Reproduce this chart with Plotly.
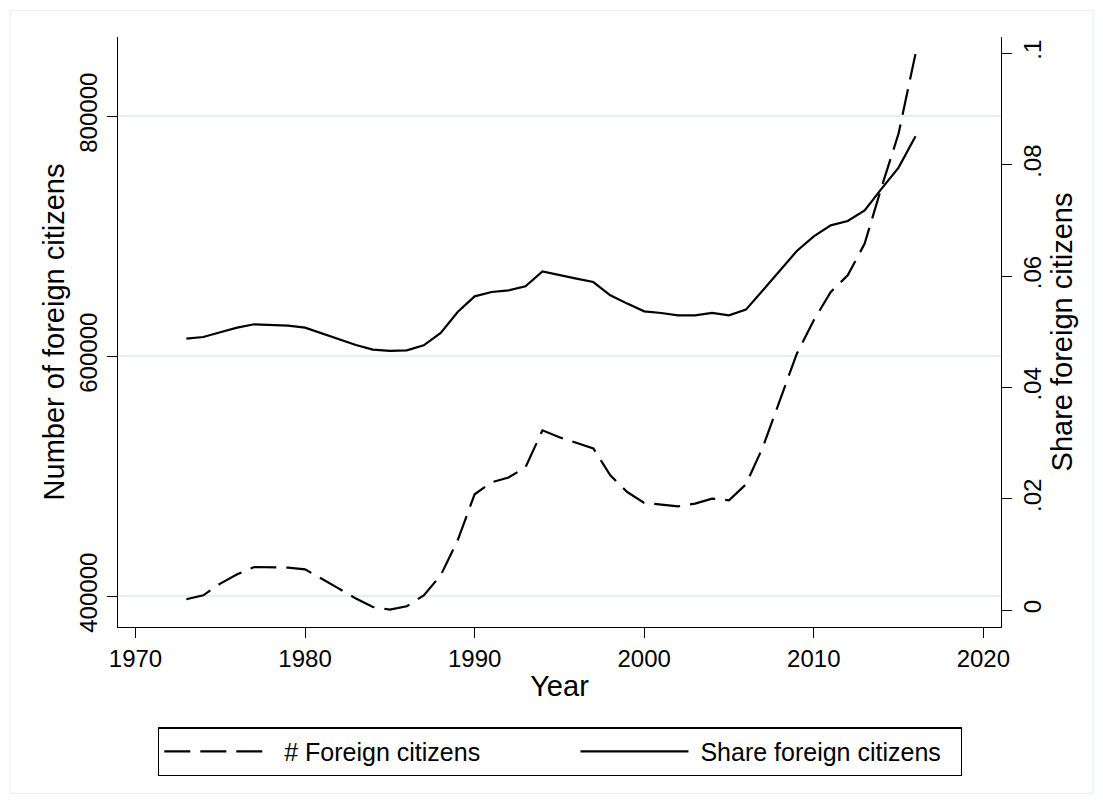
import plotly.graph_objects as go

years = list(range(1973, 2017))
foreign_citizens = [397500, 400800, 410600, 418300, 424400, 424400, 423900, 422500,
                    414700, 406400, 398100, 391100, 388900, 391700, 400800, 417500,
                    446700, 485000, 495000, 499000, 507500, 538300, 532500, 528000,
                    523300, 500800, 486900, 477800, 476700, 475000, 477200, 481400,
                    480000, 493300, 524400, 563300, 602200, 630000, 653600, 667500,
                    693900, 741100, 785600, 852200]
share_foreign = [0.04877, 0.04907, 0.04991, 0.05075, 0.05135, 0.05122, 0.05111, 0.05075,
                 0.04967, 0.04860, 0.04763, 0.04680, 0.04656, 0.04668, 0.04758, 0.04979,
                 0.05356, 0.05637, 0.05715, 0.05745, 0.05817, 0.06086, 0.06014, 0.05955,
                 0.05894, 0.05655, 0.05506, 0.05368, 0.05338, 0.05296, 0.05296, 0.05338,
                 0.05296, 0.05398, 0.05745, 0.06104, 0.06451, 0.06714, 0.06912, 0.06989,
                 0.07181, 0.07570, 0.07948, 0.08510]

x_ticks = [1970, 1980, 1990, 2000, 2010, 2020]
left_ticks = [400000, 600000, 800000]
left_tick_text = ["400000", "600000", "800000"]
right_ticks = [0, 0.02, 0.04, 0.06, 0.08, 0.1]
right_tick_text = ["0", ".02", ".04", ".06", ".08", ".1"]
legend_names = ["# Foreign citizens", "Share foreign citizens"]

FONT = "Liberation Sans, Arial, sans-serif"
FS = 24
NB = "\u00a0"

# page is offset by the 8px body margin; plot area wanted at page x 118..1001, y 36.7..626.7
W, H = 1095, 795
PL, PR, PT, PB = 110, 1095 - 993, 28.7, 795 - 618.7
PW, PH = 993 - 110, 618.7 - 28.7


def px_x(page_x):
    return (page_x - 8 - PL) / PW


def px_y(page_y):
    return 1 - (page_y - 8 - PT) / PH


fig = go.Figure()
fig.add_trace(go.Scatter(x=years, y=foreign_citizens, mode="lines",
                         name=NB + legend_names[0] + NB * 13,
                         line=dict(color="black", width=2.2, dash="26px,10px")))
fig.add_trace(go.Scatter(x=years, y=share_foreign, mode="lines",
                         name=NB + legend_names[1] + NB * 2, yaxis="y2",
                         line=dict(color="black", width=2.2)))

axis_common = dict(showline=True, linecolor="black", linewidth=1.3,
                   ticks="outside", ticklen=10, tickwidth=1.3, tickcolor="black",
                   zeroline=False, automargin=False)

fig.update_layout(
    width=W, height=H,
    margin=dict(l=PL, r=PR, t=PT, b=PB, autoexpand=False),
    paper_bgcolor="white", plot_bgcolor="white",
    font=dict(family=FONT, size=FS, color="black"),
    xaxis=dict(range=[1968.97, 2021.04], tickvals=x_ticks, showgrid=False,
               title=dict(text="Year", standoff=4), **axis_common),
    yaxis=dict(range=[374417, 866083], tickvals=left_ticks, ticktext=left_tick_text,
               tickangle=-90,
               showgrid=True, gridcolor="#e6eef1", gridwidth=2,
               title=dict(text="Number of foreign citizens", standoff=2), **axis_common),
    yaxis2=dict(range=[-0.0030, 0.10293], tickvals=right_ticks, ticktext=right_tick_text,
                tickangle=-90, overlaying="y", side="right", showgrid=False,
                title=dict(text="Share foreign citizens", standoff=4), **axis_common),
    legend=dict(orientation="h", xref="paper", yref="paper",
                x=px_x(158), xanchor="left",
                y=px_y(727), yanchor="top",
                bordercolor="black", borderwidth=1.3, bgcolor="white",
                itemwidth=108, font=dict(size=25)),
    shapes=[dict(type="rect", xref="paper", yref="paper",
                 x0=px_x(10), x1=px_x(1093), y0=px_y(793), y1=px_y(10),
                 line=dict(color="#e6eef1", width=1), layer="below")],
    showlegend=True,
)
fig.write_html("out.html")
